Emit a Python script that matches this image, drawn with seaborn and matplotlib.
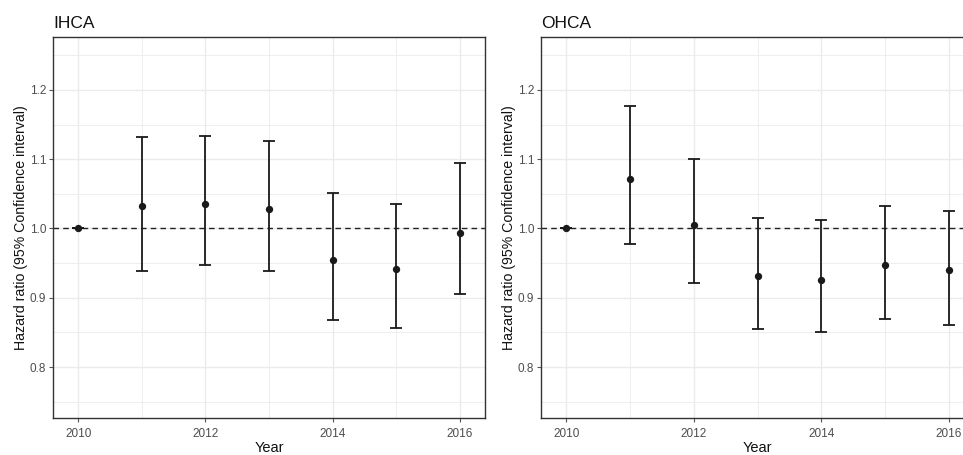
import numpy as np
import pandas as pd
import matplotlib
matplotlib.use("Agg")
import matplotlib.pyplot as plt
import seaborn as sns

# valores
years = [2010, 2011, 2012, 2013, 2014, 2015, 2016]

ihca_hr = [1.000, 1.032, 1.036, 1.028, 0.954, 0.941, 0.994]
ihca_low = [1.000, 0.939, 0.947, 0.938, 0.868, 0.856, 0.905]
ihca_high = [1.000, 1.132, 1.134, 1.126, 1.051, 1.036, 1.094]

ohca_hr = [1.000, 1.072, 1.005, 0.932, 0.926, 0.947, 0.940]
ohca_low = [1.000, 0.977, 0.921, 0.855, 0.851, 0.870, 0.860]
ohca_high = [1.000, 1.177, 1.100, 1.015, 1.012, 1.032, 1.025]

paneles = [
    ("IHCA", ihca_hr, ihca_low, ihca_high),
    ("OHCA", ohca_hr, ohca_low, ohca_high),
]

sns.set_style("white")
plt.rcParams['font.family'] = ['Liberation Sans', 'DejaVu Sans']

fig = plt.figure(figsize=(9.63, 4.55), dpi=100)
posiciones = [
    [53 / 963, 36.7 / 455, 432 / 963, 381 / 455],
    [541 / 963, 36.7 / 455, 433 / 963, 381 / 455],
]

for (titulo, hr, low, high), pos in zip(paneles, posiciones):
    ax = fig.add_axes(pos)
    df = pd.DataFrame({"Year": years, "HR": hr, "low": low, "high": high})

    # rejilla estilo ggplot
    for y in np.arange(0.75, 1.30, 0.05):
        ax.axhline(y, color="#ebebeb", lw=0.6 if round(y * 100) % 10 else 1.0, zorder=0)
    for x in range(2010, 2017):
        ax.axvline(x, color="#ebebeb", lw=1.0 if x % 2 == 0 else 0.6, zorder=0)

    ax.axhline(1.0, color="#222222", lw=1.0, ls=(0, (4, 3)), zorder=1)

    ax.errorbar(df["Year"], df["HR"],
                yerr=[df["HR"] - df["low"], df["high"] - df["HR"]],
                fmt="none", ecolor="#1a1a1a", elinewidth=1.3,
                capsize=4, capthick=1.3, zorder=2)
    sns.scatterplot(data=df, x="Year", y="HR", ax=ax, color="#1a1a1a",
                    s=28, edgecolor="#1a1a1a", linewidth=0, zorder=3)

    ax.set_xlim(2009.6, 2016.4)
    ax.set_ylim(0.726, 1.276)
    ax.set_xticks([2010, 2012, 2014, 2016])
    ax.set_yticks([0.8, 0.9, 1.0, 1.1, 1.2])
    ax.set_yticklabels(["0.8", "0.9", "1.0", "1.1", "1.2"])
    ax.tick_params(axis="both", which="both", length=3, width=0.8,
                   color="#555555", labelcolor="#4d4d4d", labelsize=8.5, pad=2,
                   bottom=True, left=True)
    ax.tick_params(axis="x", pad=4)
    for s in ax.spines.values():
        s.set_color("#333333")
        s.set_linewidth(1.0)

    ax.set_xlabel("Year", fontsize=10.5, color="#111111", labelpad=0.5)
    ax.set_ylabel("Hazard ratio (95% Confidence interval)", fontsize=10.2,
                  color="#111111", labelpad=1)
    ax.set_title(titulo, loc="left", fontsize=12.5, color="#111111", pad=7)

fig.savefig("out.png", dpi=100)
